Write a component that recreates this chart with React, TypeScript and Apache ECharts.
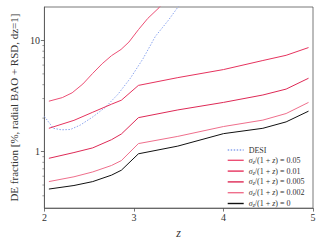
import React, { useEffect, useRef } from "react";
import * as echarts from "echarts";

// Redshift grids and values
const zTop = [2.05, 2.2, 2.31, 2.43, 2.54, 2.645, 2.75, 2.856, 2.944, 3.05, 3.155, 3.28, 3.32];
const v005Top = [2.84, 3.06, 3.38, 4.06, 5.06, 6.17, 7.3, 8.3, 9.67, 12.5, 15.8, 19.7, 21.5];

const zGrid = [2.05, 2.33, 2.54, 2.75, 2.86, 3.05, 3.49, 4.0, 4.44, 4.7, 4.95];
const v001 = [1.62, 1.91, 2.26, 2.67, 2.9, 3.94, 4.63, 5.47, 6.6, 7.35, 8.63];
const v0005 = [0.87, 0.98, 1.08, 1.28, 1.44, 2.02, 2.37, 2.77, 3.23, 3.65, 4.57];
const v0002 = [0.537, 0.593, 0.656, 0.75, 0.83, 1.18, 1.37, 1.68, 1.92, 2.2, 2.77];
const v0 = [0.46, 0.495, 0.537, 0.614, 0.68, 0.955, 1.12, 1.45, 1.62, 1.85, 2.31];

const zDesi = [2.0, 2.1, 2.19, 2.29, 2.4, 2.54, 2.68, 2.82, 2.96, 3.1, 3.24, 3.385, 3.49, 3.52];
const vDesi = [2.07, 1.62, 1.57, 1.58, 1.73, 2.05, 2.5, 3.27, 4.57, 6.82, 10.9, 15.2, 19.9, 21];

const sigmaLabels = ["0.05", "0.01", "0.005", "0.002", "0"];
const xTicks = [2, 3, 4, 5];
const yMajorTicks = [1, 10];
const yMinorTicks = [0.4, 0.5, 0.6, 0.7, 0.8, 0.9, 2, 3, 4, 5, 6, 7, 8, 9];

const SERIF = "'Liberation Serif', 'DejaVu Serif', serif";

const pairs = (xs: number[], ys: number[]) => xs.map((x, i) => [x, ys[i]]);

export default function App() {
  const ref = useRef<HTMLDivElement>(null);
  useEffect(() => {
    if (!ref.current) return;
    const chart = echarts.init(ref.current, undefined, { renderer: "svg" });
    const sigmaNames = sigmaLabels.map((s) => `σz/(1 + z) = ${s}`);
    const sigmaData = [
      pairs(zTop, v005Top),
      pairs(zGrid, v001),
      pairs(zGrid, v0005),
      pairs(zGrid, v0002),
      pairs(zGrid, v0),
    ];
    const sigmaColors = ["#ec4f75", "#e6335e", "#de2a56", "#ef6f8c", "#111111"];

    chart.setOption({
      animation: false,
      grid: {
        left: 29,
        right: 21,
        top: 7,
        bottom: 30,
        show: true,
        borderColor: "#555",
        borderWidth: 0.8,
        backgroundColor: "transparent",
      },
      legend: {
        orient: "vertical",
        left: 222,
        top: 141,
        itemWidth: 16,
        itemHeight: 8,
        itemGap: 2.3,
        itemStyle: { opacity: 0 },
        lineStyle: { width: 1.4 },
        data: ["DESI", ...sigmaNames],
        formatter: (name: string) => {
          if (name === "DESI") return "{n|DESI}";
          const val = name.split("= ")[1];
          return `{i|σ}{sub|z}{n|/(1 + }{i|z}{n|) = ${val}}`;
        },
        textStyle: {
          fontFamily: SERIF,
          fontSize: 8,
          color: "#333",
          rich: {
            n: { fontFamily: SERIF, fontSize: 8, color: "#333", lineHeight: 9 },
            i: { fontFamily: SERIF, fontSize: 8, color: "#333", fontStyle: "italic", lineHeight: 9 },
            sub: {
              fontFamily: SERIF,
              fontSize: 5.5,
              color: "#333",
              fontStyle: "italic",
              verticalAlign: "bottom",
              lineHeight: 9,
            },
          },
        },
      },
      xAxis: {
        type: "value",
        min: 2,
        max: 5,
        interval: 1,
        name: "z",
        nameLocation: "middle",
        nameGap: 16,
        nameTextStyle: { fontFamily: SERIF, fontSize: 12, fontStyle: "italic", color: "#333" },
        axisLine: { show: true, lineStyle: { color: "#555", width: 0.8 } },
        axisTick: { show: true, length: 3.5, lineStyle: { color: "#555", width: 0.8 }, customValues: xTicks },
        axisLabel: { fontFamily: SERIF, fontSize: 10, color: "#333", margin: 4, customValues: xTicks },
        splitLine: { show: false },
      },
      yAxis: {
        type: "log",
        min: 0.31,
        max: 20,
        name: "DE fraction [%, radial BAO + RSD, dz=1]",
        nameLocation: "middle",
        nameGap: 14,
        nameTextStyle: { fontFamily: SERIF, fontSize: 11, color: "#333" },
        axisLine: { show: true, lineStyle: { color: "#555", width: 0.8 } },
        axisTick: { show: true, length: 3.5, lineStyle: { color: "#555", width: 0.8 }, customValues: yMajorTicks },
        axisLabel: { fontFamily: SERIF, fontSize: 10, color: "#333", margin: 4.5, customValues: yMajorTicks },
        splitLine: { show: false },
      },
      series: [
        {
          name: "DESI",
          type: "line",
          data: pairs(zDesi, vDesi),
          symbol: "none",
          lineStyle: { color: "#8aa4ee", width: 1, type: [1.5, 1.5] },
          itemStyle: { color: "#8aa4ee" },
          clip: true,
          z: 1,
        },
        ...sigmaNames.map((nm, k) => ({
          name: nm,
          type: "line",
          data: sigmaData[k],
          symbol: "none",
          lineStyle: { color: sigmaColors[k], width: 1 },
          itemStyle: { color: sigmaColors[k] },
          clip: true,
          z: 2,
        })),
        {
          name: "minor",
          type: "custom",
          silent: true,
          clip: false,
          data: yMinorTicks.map((v) => [2, v]),
          renderItem: (_p: any, api: any) => {
            const pt = api.coord([api.value(0), api.value(1)]);
            return {
              type: "line",
              shape: { x1: pt[0] - 2, y1: pt[1], x2: pt[0], y2: pt[1] },
              style: { stroke: "#555", lineWidth: 0.6 },
            };
          },
        },
      ],
    });
    return () => chart.dispose();
  }, []);
  return (
    <div
      ref={ref}
      style={{ position: "absolute", left: 0, top: 0, width: 334, height: 244, background: "#fff" }}
    />
  );
}
